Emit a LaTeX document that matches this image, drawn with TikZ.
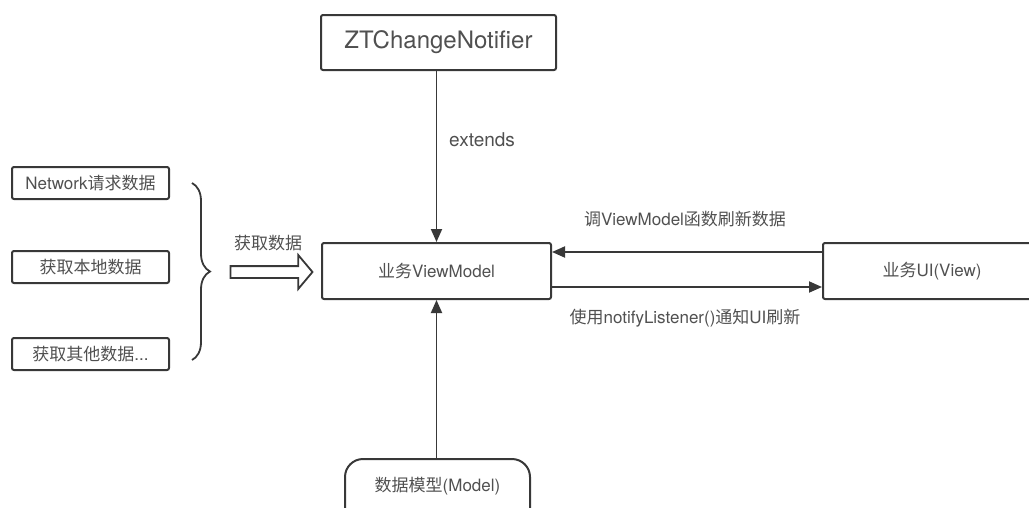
\documentclass[tikz,border=0pt]{standalone}
\usepackage{fontspec}
\setmainfont{TeX Gyre Heros}
\newfontfamily\cjk{Noto Sans CJK SC}
\usetikzlibrary{arrows.meta,shapes.arrows,decorations.pathreplacing}
\definecolor{ln}{HTML}{383838}
\definecolor{tx}{HTML}{505050}
\tikzset{
  box/.style={draw=ln, line width=2pt, rounded corners=2pt, text=tx, font=\fontsize{17}{20}\selectfont, inner sep=0pt},
  lbl/.style={text=tx, font=\fontsize{17}{20}\selectfont, inner sep=0pt},
  conn/.style={draw=ln, line width=1.9pt, -{Triangle[length=13pt,width=11pt]}}
}
\begin{document}
\begin{tikzpicture}[x=1pt,y=-1pt]
\useasboundingbox (0,0) rectangle (1029,507);
% top box
\node[box, minimum width=235pt, minimum height=55pt, font=\fontsize{24}{28}\selectfont] (zt) at (438.5,42.5) {ZTChangeNotifier};
% view model
\node[box, minimum width=229pt, minimum height=56pt] (vm) at (436.5,271) {{\cjk 业务}ViewModel};
% UI box (cut off)
\node[box, minimum width=230pt, minimum height=56pt, anchor=west] (ui) at (822,271) {};
\node[lbl] (uit) at (932,271) {{\cjk 业务}UI(View)};
% model capsule (cut off)
\node[box, rounded corners=18pt, minimum width=185pt, minimum height=70pt, anchor=north] (md) at (437.5,458) {};
\node[lbl] (mdt) at (437.5,486) {{\cjk 数据模型}(Model)};
% left boxes
\node[box, minimum width=157pt, minimum height=32pt] (b1) at (90.5,183) {Network{\cjk 请求数据}};
\node[box, minimum width=157pt, minimum height=32pt] (b2) at (90.5,267) {{\cjk 获取本地数据}};
\node[box, minimum width=157pt, minimum height=32pt] (b3) at (90.5,354) {{\cjk 获取其他数据}...};
% brace
\coordinate (bt) at (192,183);
\coordinate (bb) at (192,360);
\draw[ln, line width=1.8pt, decorate, decoration={brace, amplitude=18pt}] (bt) -- (bb);
% fat arrow
\node[single arrow, draw=ln, line width=1.8pt, fill=white, minimum height=82pt, minimum width=33pt, single arrow head extend=11pt, single arrow tip angle=100, inner sep=5pt] (fa) at (269,272) {};
\node[lbl] (fal) at (268,243) {\cjk 获取数据};
% connectors
\draw[conn] (vm.north |- zt.south) -- (vm.north);
\node[lbl, anchor=west, font=\fontsize{19}{22}\selectfont] (ext) at (449,140) {extends};
\draw[conn] (vm.south |- md.north) -- (vm.south);
\draw[conn] (ui.west |- 0,252) -- (vm.east |- 0,252);
\draw[conn] (vm.east |- 0,287) -- (ui.west |- 0,287);
\node[lbl] (l1) at (685,219) {{\cjk 调}ViewModel{\cjk 函数刷新数据}};
\node[lbl] (l2) at (685,318) {{\cjk 使用}notifyListener(){\cjk 通知}UI{\cjk 刷新}};
\end{tikzpicture}
\end{document}
